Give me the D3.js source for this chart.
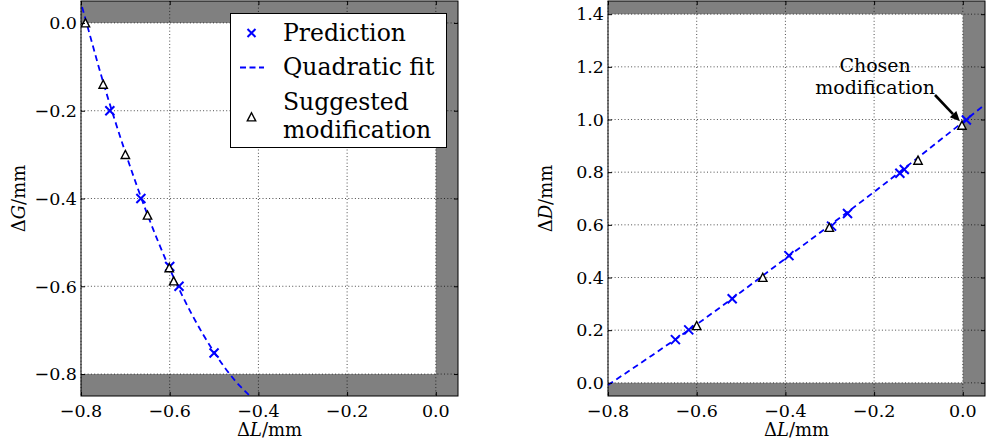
<!DOCTYPE html>
<html><head><meta charset="utf-8">
<script src="https://cdnjs.cloudflare.com/ajax/libs/d3/7.8.5/d3.min.js"></script>
<style>body{margin:0;background:#fff}svg{display:block}text{font-family:"DejaVu Serif",serif;fill:#000}</style>
</head><body><svg id="c" width="986" height="445"></svg>
<script>
// ---------- data ----------
const xTicks = [-0.8, -0.6, -0.4, -0.2, 0.0];
const gTicks = [0.0, -0.2, -0.4, -0.6, -0.8];
const dTicks = [0.0, 0.2, 0.4, 0.6, 0.8, 1.0, 1.2, 1.4];

// left panel: ΔG vs ΔL
const gPredL = [-0.735, -0.665, -0.600, -0.579, -0.500];
const gPredG = [-0.200, -0.400, -0.555, -0.600, -0.752];
const gFitL  = [-0.81, -0.80, -0.75, -0.70, -0.65, -0.60, -0.55, -0.50, -0.45, -0.42, -0.40];
const gFitG  = [0.08, 0.045, -0.135, -0.295, -0.437, -0.560, -0.664, -0.750, -0.818, -0.849, -0.870];
const gSugL  = [-0.790, -0.750, -0.700, -0.650, -0.601, -0.591];
const gSugG  = [0.000, -0.140, -0.300, -0.438, -0.558, -0.588];

// right panel: ΔD vs ΔL
const dPredL = [-0.648, -0.618, -0.520, -0.392, -0.296, -0.260, -0.142, -0.132, 0.008];
const dPredD = [0.164, 0.201, 0.319, 0.483, 0.595, 0.643, 0.796, 0.810, 0.998];
const dFitL  = [-0.80, -0.70, -0.60, -0.50, -0.40, -0.30, -0.20, -0.10, 0.00, 0.06];
const dFitD  = [-0.008, 0.105, 0.222, 0.345, 0.472, 0.598, 0.725, 0.857, 0.990, 1.070];
const dSugL  = [-0.600, -0.451, -0.301, -0.101, -0.002];
const dSugD  = [0.217, 0.400, 0.590, 0.845, 0.978];

const legendLabels = [["Prediction"], ["Quadratic fit"], ["Suggested", "modification"]];
const annotLines = ["Chosen", "modification"];

// ---------- drawing ----------
const svg = d3.select("#c");
const BLUE = "#0000ff", GREY = "#808080";
const fmt = v => d3.format(".1f")(v);
const TRI = "M0,-4.2L4.2,3.9L-4.2,3.9Z";

function panel(id, x, y, xt, yt, ylab, fitL, fitV, predL, predV, sugL, sugV) {
  const [x0, x1] = x.range(), [y0, y1] = y.range(); // y0 bottom, y1 top
  const g = svg.append("g");
  g.append("clipPath").attr("id", id).append("rect")
    .attr("x", x0).attr("y", y1).attr("width", x1 - x0).attr("height", y0 - y1);
  const yLo = d3.min(yt), yHi = d3.max(yt);
  // grey forbidden regions
  g.append("rect").attr("x", x0).attr("width", x1 - x0)
    .attr("y", y1).attr("height", y(yHi) - y1).attr("fill", GREY);
  g.append("rect").attr("x", x0).attr("width", x1 - x0)
    .attr("y", y(yLo)).attr("height", y0 - y(yLo)).attr("fill", GREY);
  g.append("rect").attr("x", x(0)).attr("width", x1 - x(0))
    .attr("y", y1).attr("height", y0 - y1).attr("fill", GREY);
  // grid
  const grid = g.append("g").attr("stroke", "#000").attr("stroke-width", 0.7)
    .attr("stroke-dasharray", "1,2.3");
  xt.forEach(t => grid.append("line").attr("x1", x(t)).attr("x2", x(t)).attr("y1", y1).attr("y2", y0));
  yt.forEach(t => grid.append("line").attr("y1", y(t)).attr("y2", y(t)).attr("x1", x0).attr("x2", x1));
  // data
  const dg = g.append("g").attr("clip-path", `url(#${id})`);
  const pts = fitL.map((v, i) => [v, fitV[i]]);
  dg.append("path").datum(pts)
    .attr("d", d3.line().x(d => x(d[0])).y(d => y(d[1])).curve(d3.curveMonotoneX))
    .attr("fill", "none").attr("stroke", BLUE).attr("stroke-width", 1.8).attr("stroke-dasharray", "6,4");
  predL.forEach((v, i) => dg.append("path")
    .attr("transform", `translate(${x(v)},${y(predV[i])})`)
    .attr("d", "M-4.5,-4.5L4.5,4.5M-4.5,4.5L4.5,-4.5")
    .attr("stroke", BLUE).attr("stroke-width", 2).attr("fill", "none"));
  sugL.forEach((v, i) => dg.append("path")
    .attr("transform", `translate(${x(v)},${y(sugV[i])})`)
    .attr("d", TRI)
    .attr("stroke", "#000").attr("stroke-width", 1.4).attr("fill", "#fff"));
  // ticks (inward, all sides)
  const ax = g.append("g");
  ax.append("g").attr("transform", `translate(0,${y0})`)
    .call(d3.axisBottom(x).tickValues(xt).tickSize(-4).tickFormat(""));
  ax.append("g").attr("transform", `translate(0,${y1})`)
    .call(d3.axisTop(x).tickValues(xt).tickSize(-4).tickFormat(""));
  ax.append("g").attr("transform", `translate(${x0},0)`)
    .call(d3.axisLeft(y).tickValues(yt).tickSize(-4).tickFormat(""));
  ax.append("g").attr("transform", `translate(${x1},0)`)
    .call(d3.axisRight(y).tickValues(yt).tickSize(-4).tickFormat(""));
  ax.selectAll(".domain").remove();
  ax.selectAll("line").attr("stroke", "#000").attr("stroke-width", 1);
  g.append("rect").attr("x", x0).attr("y", y1).attr("width", x1 - x0).attr("height", y0 - y1)
    .attr("fill", "none").attr("stroke", "#000").attr("stroke-width", 1);
  // tick labels
  xt.forEach(t => g.append("text").attr("x", x(t)).attr("y", y0 + 21)
    .attr("text-anchor", "middle").attr("font-size", 17.5).text(fmt(t)));
  yt.forEach(t => g.append("text").attr("x", x0 - 4).attr("y", y(t) + 6.3)
    .attr("text-anchor", "end").attr("font-size", 17.5).text(fmt(t)));
  // axis labels
  const xl = g.append("text").attr("x", (x0 + x1) / 2).attr("y", y0 + 40)
    .attr("text-anchor", "middle").attr("font-size", 18);
  xl.append("tspan").text("Δ"); xl.append("tspan").attr("font-style", "italic").text("L");
  xl.append("tspan").text("/mm");
  const yl = g.append("text").attr("transform", `translate(${x0 - 56},${(y0 + y1) / 2}) rotate(-90)`)
    .attr("text-anchor", "middle").attr("font-size", 18);
  yl.append("tspan").text("Δ"); yl.append("tspan").attr("font-style", "italic").text(ylab);
  yl.append("tspan").text("/mm");
  return g;
}

const xL = d3.scaleLinear().domain([-0.8, 0.05]).range([81, 458]);
const yL = d3.scaleLinear().domain([-0.85, 0.05]).range([396, 1]);
const xR = d3.scaleLinear().domain([-0.8, 0.05]).range([608, 985]);
const yR = d3.scaleLinear().domain([-0.05, 1.45]).range([396, 1]);

panel("clipL", xL, yL, xTicks, gTicks, "G", gFitL, gFitG, gPredL, gPredG, gSugL, gSugG);
panel("clipR", xR, yR, xTicks, dTicks, "D", dFitL, dFitD, dPredL, dPredD, dSugL, dSugD);

// legend
const lg = svg.append("g");
lg.append("rect").attr("x", 230.5).attr("y", 13.5).attr("width", 216).attr("height", 134)
  .attr("fill", "#fff").attr("stroke", "#000").attr("stroke-width", 1);
lg.append("path").attr("transform", "translate(251.5,33)")
  .attr("d", "M-4,-4L4,4M-4,4L4,-4").attr("stroke", BLUE).attr("stroke-width", 2);
lg.append("line").attr("x1", 240).attr("x2", 264).attr("y1", 67.5).attr("y2", 67.5)
  .attr("stroke", BLUE).attr("stroke-width", 1.8).attr("stroke-dasharray", "6,3.5");
lg.append("path").attr("transform", "translate(251.5,117)")
  .attr("d", TRI).attr("stroke", "#000").attr("stroke-width", 1.4).attr("fill", "#fff");
const lgY = [[40.5], [74.5], [110, 137.5]];
legendLabels.forEach((lines, i) => lines.forEach((s, j) =>
  lg.append("text").attr("x", 283).attr("y", lgY[i][j]).attr("font-size", 23.5).text(s)));

// annotation
const an = svg.append("g");
annotLines.forEach((s, j) => an.append("text").attr("x", xR(-0.2) + 1).attr("y", 71.5 + j * 22)
  .attr("text-anchor", "middle").attr("font-size", 19).text(s));
const tip = [xR(dSugL[4]) - 2, yR(dSugD[4]) - 4];
const st = [935, 95];
const ang = Math.atan2(tip[1] - st[1], tip[0] - st[0]);
const hl = 10, hw = 4.5;
const bx = tip[0] - hl * Math.cos(ang), by = tip[1] - hl * Math.sin(ang);
an.append("line").attr("x1", st[0]).attr("y1", st[1]).attr("x2", bx).attr("y2", by)
  .attr("stroke", "#000").attr("stroke-width", 2.6);
an.append("path").attr("d", `M${tip[0]},${tip[1]}L${bx + hw * Math.sin(ang)},${by - hw * Math.cos(ang)}L${bx - hw * Math.sin(ang)},${by + hw * Math.cos(ang)}Z`)
  .attr("fill", "#000");
</script></body></html>
